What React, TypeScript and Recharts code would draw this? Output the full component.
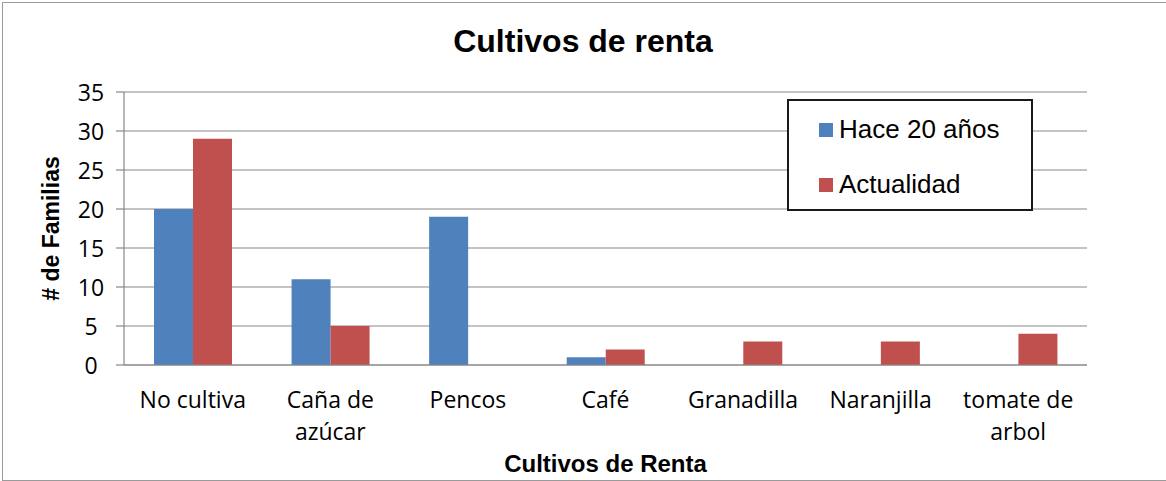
import { BarChart, Bar, XAxis, YAxis, CartesianGrid, Legend, Label } from "recharts";

const categories = [
  "No cultiva",
  "Caña de azúcar",
  "Pencos",
  "Café",
  "Granadilla",
  "Naranjilla",
  "tomate de arbol",
];
const hace20 = [20, 11, 19, 1, 0, 0, 0];
const actualidad = [29, 5, 0, 2, 3, 3, 4];
const yTicks = [0, 5, 10, 15, 20, 25, 30, 35];
const seriesNames = ["Hace 20 años", "Actualidad"];

const data = categories.map((name, i) => ({
  name,
  hace20: hace20[i],
  actualidad: actualidad[i],
}));

const BLUE = "#4F81BD";
const RED = "#C0504D";
const GRID = "#878787";

// break long category names into lines of about 10 chars
function wrap(label: string): string[] {
  const lines: string[] = [];
  let cur = "";
  for (const w of label.split(" ")) {
    const next = cur ? cur + " " + w : w;
    if (next.length > 10 && cur) {
      lines.push(cur);
      cur = w;
    } else cur = next;
  }
  if (cur) lines.push(cur);
  return lines;
}

function CategoryTick(props: any) {
  const { x, y, payload } = props;
  const lines = wrap(String(payload.value));
  return (
    <text
      x={x}
      y={y}
      textAnchor="middle"
      fill="#000"
      style={{ fontFamily: "'Open Sans', sans-serif", fontSize: 23 }}
    >
      {lines.map((l, i) => (
        <tspan key={i} x={x} y={y + 43 + i * 32}>
          {l}
        </tspan>
      ))}
    </text>
  );
}

function ValueTick(props: any) {
  const { x, y, payload } = props;
  return (
    <text
      x={x - 25}
      y={y + 9}
      textAnchor="middle"
      fill="#000"
      style={{ fontFamily: "'Open Sans', sans-serif", fontSize: 23 }}
    >
      {payload.value}
    </text>
  );
}

function LegendBox(props: any) {
  const items = [...(props.payload || [])].sort(
    (a: any, b: any) => seriesNames.indexOf(a.value) - seriesNames.indexOf(b.value)
  );
  return (
    <div
      style={{
        width: 246,
        height: 112,
        boxSizing: "border-box",
        border: "2px solid #1a1a1a",
        background: "#fff",
        paddingLeft: 30,
        paddingTop: 1,
        fontFamily: "'Liberation Sans', Arial, sans-serif",
        fontSize: 26,
        color: "#000",
      }}
    >
      {items.map((it: any) => (
        <div key={it.value} style={{ display: "flex", alignItems: "center", height: 55 }}>
          <span style={{ width: 14, height: 14, background: it.color, marginRight: 6 }} />
          <span>{it.value}</span>
        </div>
      ))}
    </div>
  );
}

export default function App() {
  return (
    <div style={{ position: "absolute", left: 0, top: 0, width: 1166, height: 481, background: "#fff" }}>
      <div
        style={{
          position: "absolute",
          left: 2,
          top: 2,
          width: 1200,
          height: 477,
          border: "1px solid #9a9a9a",
        }}
      />
      <div
        style={{
          position: "absolute",
          left: 0,
          top: 23,
          width: 1166,
          textAlign: "center",
          fontFamily: "'Liberation Sans', Arial, sans-serif",
          fontWeight: "bold",
          fontSize: 32,
        }}
      >
        Cultivos de renta
      </div>
      <div style={{ position: "absolute", left: 0, top: 0 }}>
        <BarChart
          width={1166}
          height={481}
          data={data}
          margin={{ top: 92, right: 79, bottom: 36, left: 0 }}
          barGap={0}
          barSize={39}
        >
          <CartesianGrid vertical={false} stroke={GRID} strokeWidth={1.2} />
          <XAxis
            dataKey="name"
            height={80}
            axisLine={{ stroke: GRID, strokeWidth: 1.2 }}
            tickLine={false}
            tickSize={0}
            tickMargin={0}
            interval={0}
            tick={<CategoryTick />}
          >
            <Label
              content={(p: any) => {
                const vb = p.viewBox;
                return (
                  <text
                    x={vb.x + vb.width / 2}
                    y={472}
                    textAnchor="middle"
                    style={{
                      fontFamily: "'Liberation Sans', Arial, sans-serif",
                      fontWeight: "bold",
                      fontSize: 24,
                    }}
                  >
                    Cultivos de Renta
                  </text>
                );
              }}
            />
          </XAxis>
          <YAxis
            width={124}
            domain={[0, 35]}
            ticks={yTicks}
            interval={0}
            axisLine={{ stroke: GRID, strokeWidth: 1.2 }}
            tickLine={{ stroke: GRID, strokeWidth: 1.2 }}
            tickSize={8}
            tickMargin={0}
            tick={<ValueTick />}
          >
            <Label
              content={(p: any) => {
                const vb = p.viewBox;
                const cy = vb.y + vb.height / 2;
                return (
                  <text
                    x={51}
                    y={cy}
                    transform={`rotate(-90 51 ${cy})`}
                    textAnchor="middle"
                    dominantBaseline="central"
                    style={{
                      fontFamily: "'Liberation Sans', Arial, sans-serif",
                      fontWeight: "bold",
                      fontSize: 23,
                    }}
                  >
                    # de Familias
                  </text>
                );
              }}
            />
          </YAxis>
          <Legend
            layout="vertical"
            align="center"
            verticalAlign="middle"
            wrapperStyle={{ left: 787, top: 99, width: 246, height: 112 }}
            content={<LegendBox />}
          />
          <Bar dataKey="hace20" name={seriesNames[0]} fill={BLUE} isAnimationActive={false} />
          <Bar dataKey="actualidad" name={seriesNames[1]} fill={RED} isAnimationActive={false} />
        </BarChart>
      </div>
    </div>
  );
}
